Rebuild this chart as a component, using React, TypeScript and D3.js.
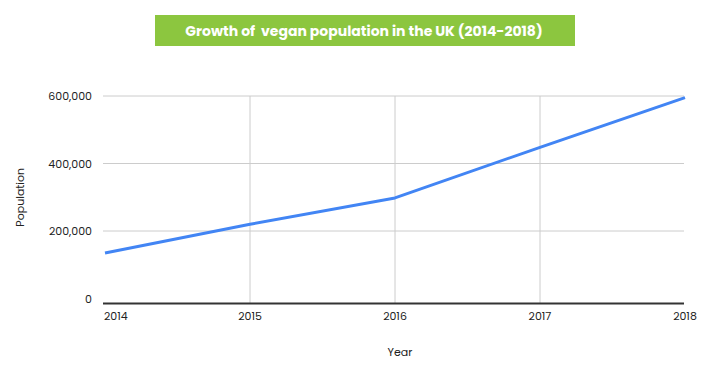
import React from 'react';
import * as d3 from 'd3';

const years = [2014, 2015, 2016, 2017, 2018];
const population = [135000, 220000, 298000, 448000, 595000];
const yTicks = [0, 200000, 400000, 600000];
const title = 'Growth of  vegan population in the UK (2014-2018)';

const width = 720;
const height = 372;
const left = 103;
const right = 684;
const top = 96;
const zeroY = 298.5;
const font = 'Poppins, Lato, "Open Sans", sans-serif';

const App: React.FC = () => {
  const x = d3.scaleLinear().domain([2014, 2018]).range([105, 685]);
  const y = d3.scaleLinear().domain([0, 600000]).range([zeroY, top]);
  const fmt = d3.format(',');

  const line = d3.line<number>()
    .x((_, i) => x(years[i]))
    .y(d => y(d));

  return (
    <svg width={width} height={height} style={{ position: 'absolute', left: 0, top: 0, background: '#fff' }}>
      {/* title box */}
      <rect x={155} y={15} width={420} height={31} fill="#8cc63f" />
      <text x={364} y={35.5} textAnchor="middle" fill="#fff" fontFamily={font} fontWeight={700} fontSize={14}
        style={{ whiteSpace: 'pre' }}>
        {title}
      </text>

      {/* horizontal grid */}
      {yTicks.filter(t => t > 0).map(t => (
        <line key={t} x1={left} x2={right} y1={y(t)} y2={y(t)} stroke="#cccccc" strokeWidth={1} />
      ))}
      {/* vertical grid */}
      {years.slice(1, -1).map(yr => (
        <line key={yr} x1={x(yr)} x2={x(yr)} y1={top} y2={zeroY + 5} stroke="#cccccc" strokeWidth={1} />
      ))}

      {/* y labels */}
      {yTicks.map(t => (
        <text key={t} x={92} y={y(t) + 4} textAnchor="end" fontFamily={font} fontSize={11} fill="#222">
          {fmt(t)}
        </text>
      ))}

      {/* x axis baseline */}
      <line x1={left} x2={right} y1={zeroY + 5} y2={zeroY + 5} stroke="#333" strokeWidth={2} />

      {/* x labels */}
      {years.map((yr, i) => (
        <text
          key={yr}
          x={i === 0 ? left + 1 : x(yr)}
          y={320}
          textAnchor={i === 0 ? 'start' : 'middle'}
          fontFamily={font}
          fontSize={11}
          fill="#222"
        >
          {yr}
        </text>
      ))}

      {/* line */}
      <path d={line(population) || ''} fill="none" stroke="#4285f4" strokeWidth={3} strokeLinejoin="round" />

      {/* axis titles */}
      <text x={400} y={356} textAnchor="middle" fontFamily={font} fontSize={11} fill="#222">Year</text>
      <text
        transform={`translate(24,${(top + zeroY) / 2}) rotate(-90)`}
        textAnchor="middle"
        fontFamily={font}
        fontSize={11}
        fill="#222"
      >
        Population
      </text>
    </svg>
  );
};

export default App;
